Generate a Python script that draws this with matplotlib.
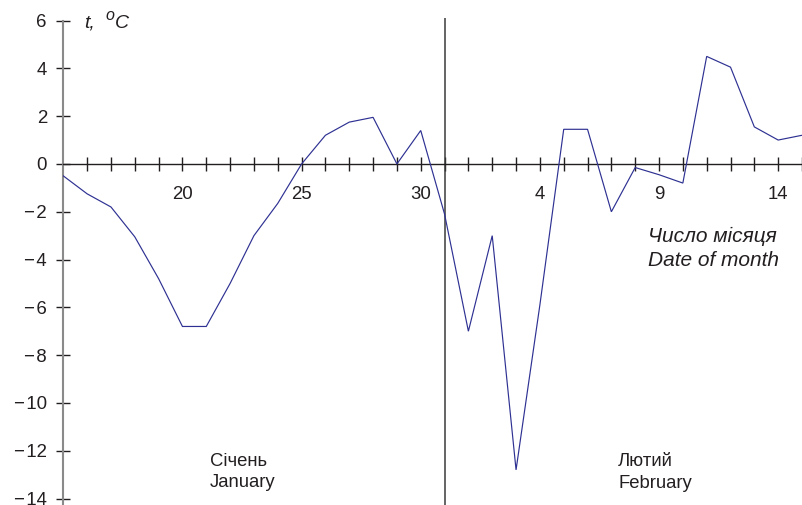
import matplotlib
matplotlib.use("Agg")
import matplotlib.pyplot as plt

plt.rcParams["font.family"] = ["Liberation Sans", "DejaVu Sans"]
plt.rcParams["axes.unicode_minus"] = True

# Daily mean air temperature, 15 January .. 15 February
days = [15, 16, 17, 18, 19, 20, 21, 22, 23, 24, 25, 26, 27, 28, 29, 30, 31,
        1, 2, 3, 4, 5, 6, 7, 8, 9, 10, 11, 12, 13, 14, 15]
temps = [-0.5, -1.25, -1.8, -3.05, -4.8, -6.8, -6.8, -5.0, -3.0, -1.65, 0.0,
         1.2, 1.75, 1.95, 0.0, 1.4, -2.1,
         -7.0, -3.0, -12.8, -5.9, 1.45, 1.45, -2.0, -0.15, -0.45, -0.8,
         4.5, 4.05, 1.55, 1.0, 1.2]
labelled_days = [20, 25, 30, 4, 9, 14]
y_ticks = [6, 4, 2, 0, -2, -4, -6, -8, -10, -12, -14]
month_boundary = 16  # position of 31 January

ink = "#231f20"
line_blue = "#2e3192"

W, H = 802, 505
fig = plt.figure(figsize=(W / 100, H / 100), dpi=100)
left_px = 63.3
ax = fig.add_axes([left_px / W, 0, 1 - left_px / W, 1])

x = list(range(len(days)))
ax.plot(x, temps, color=line_blue, lw=0.85, solid_joinstyle="miter", zorder=3)

ax.set_xlim(0, (W - left_px) / 23.86)
ax.set_ylim(-14.27, 6.86)

# axes: vertical y-axis on the left, x-axis through zero
for s in ("top", "right"):
    ax.spines[s].set_visible(False)
ax.spines["left"].set_bounds(-14.27, 6)
ax.spines["left"].set_color("#8a8a8a")
ax.spines["left"].set_linewidth(1.5)
ax.spines["bottom"].set_position(("data", 0))
ax.spines["bottom"].set_color(ink)
ax.spines["bottom"].set_linewidth(1.0)

ax.set_xticks(x[1:])
ax.set_xticklabels([str(d) if d in labelled_days else "" for d in days[1:]])
ax.set_yticks(y_ticks)
ax.set_yticklabels([("\u2212\u200a" + str(-v)) if v < 0 else str(v)
                    for v in y_ticks])

ax.tick_params(axis="x", direction="inout", length=10, width=1.0,
               color=ink, labelcolor=ink, labelsize=13.4, pad=11)
ax.tick_params(axis="y", direction="inout", length=9.5, width=1.0,
               color=ink, labelcolor=ink, labelsize=13.4, pad=7)

# boundary between January and February
ax.vlines(month_boundary, -14.27, 6.1, color="#3a3a3a", lw=1.1, zorder=2)

# axis title: t, °C with a raised "o"
fig.text(84 / W, 1 - 27.5 / H, "t,", fontsize=14, style="italic",
         color=ink, va="baseline", ha="left")
fig.text(105 / W, 1 - 20.5 / H, "o", fontsize=11.5, style="italic",
         color=ink, va="baseline", ha="left")
fig.text(115 / W, 1 - 27.5 / H, "C", fontsize=14, style="italic",
         color=ink, va="baseline", ha="left")

fig.text(648 / W, 1 - 242 / H, "Число місяця", fontsize=15, style="italic",
         color=ink, va="baseline", ha="left")
fig.text(648 / W, 1 - 266.5 / H, "Date of month", fontsize=15, style="italic",
         color=ink, va="baseline", ha="left")
fig.text(210 / W, 1 - 466 / H, "Січень", fontsize=13.3, color=ink, va="baseline")
fig.text(210 / W, 1 - 487 / H, "January", fontsize=13.3, color=ink, va="baseline")
fig.text(618 / W, 1 - 466.5 / H, "Лютий", fontsize=13.3, color=ink, va="baseline")
fig.text(618 / W, 1 - 487.5 / H, "February", fontsize=13.3, color=ink, va="baseline")

fig.savefig("out.png", dpi=100)
